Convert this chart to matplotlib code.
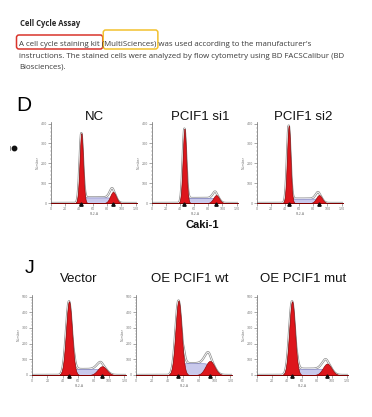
import numpy as np
import matplotlib
matplotlib.use("Agg")
import matplotlib.pyplot as plt
from matplotlib.patches import FancyBboxPatch
from matplotlib.lines import Line2D
from matplotlib.transforms import IdentityTransform
from matplotlib.ticker import MultipleLocator

W, H = 372, 417

# ---------------- data ----------------
heading = "Cell Cycle Assay"
body_lines = [
    "A cell cycle staining kit (MultiSciences) was used according to the manufacturer's",
    "instructions. The stained cells were analyzed by flow cytometry using BD FACSCalibur (BD",
    "Biosciences).",
]
red_box_text = "A cell cycle staining kit"
yellow_box_text = "(MultiSciences)"

d_titles = ["NC", "PCIF1 si1", "PCIF1 si2"]
d_g1_pos = [43, 46, 45]
d_g1_height = [352, 375, 390]
d_g1_sd = [2.5, 2.5, 2.5]
d_g2_pos = [88, 91, 88]
d_g2_height = [56, 40, 40]
d_g2_sd = [4.2, 4.2, 4.2]
d_s_level = [28, 25, 22]

j_titles = ["Vector", "OE PCIF1 wt", "OE PCIF1 mut"]
j_g1_pos = [48, 54, 47]
j_g1_height = [470, 475, 470]
j_g1_sd = [3.9, 3.9, 3.9]
j_g2_pos = [91, 94, 94]
j_g2_height = [56, 90, 73]
j_g2_sd = [5.8, 5.8, 5.8]
j_s_level = [38, 75, 40]

x_ticks = [0, 20, 40, 60, 80, 100, 120]
d_y_ticks = [0, 100, 200, 300, 400]
j_y_ticks = [0, 100, 200, 300, 400, 500]
x_label = "FL2-A"
y_label = "Number"
cell_line = "Caki-1"

# ---------------- figure ----------------
fig = plt.figure(figsize=(W / 100, H / 100), dpi=100)
fig.patch.set_facecolor("white")
rend = fig.canvas.get_renderer()


def fx(px):
    return px / W


def fy(py):
    return 1 - py / H


def measure(s, **kw):
    t = fig.text(0, 0, s, **kw)
    w = t.get_window_extent(rend).width
    t.remove()
    return w


body_kw = dict(family=["Open Sans", "DejaVu Sans"], color="#3a3a3a")
fs = 10 * 327 / measure(body_lines[1], fontsize=10, **body_kw)
head_kw = dict(family=["Open Sans", "DejaVu Sans"], weight="bold", color="#262626")
hfs = 10 * 60 / measure(heading, fontsize=10, **head_kw)

x0 = 19
fig.text(fx(20), fy(26), heading, fontsize=hfs, va="baseline", ha="left", **head_kw)
for line, yb in zip(body_lines, [46.5, 57.5, 68.5]):
    fig.text(fx(x0), fy(yb), line, fontsize=fs, va="baseline", ha="left", **body_kw)

w_red = measure(red_box_text, fontsize=fs, **body_kw)
w_pref = measure(red_box_text + " ", fontsize=fs, **body_kw)
w_yel = measure(yellow_box_text, fontsize=fs, **body_kw)


def add_box(l, r, t, b, color):
    p = FancyBboxPatch((l, H - b), r - l, b - t,
                       boxstyle="round,pad=0,rounding_size=2.5",
                       transform=IdentityTransform(), fill=False,
                       ec=color, lw=1.1)
    fig.add_artist(p)


add_box(x0 - 2.5, x0 + w_red + 3, 35, 49, "#d9342b")
add_box(x0 + w_pref + 1.5, x0 + w_pref + w_yel + 1.5, 30, 49, "#f2c12e")

# small mark at left
fig.add_artist(Line2D([fx(13.5)], [fy(148)], marker="o", ms=3.2, color="#111",
                      transform=fig.transFigure))
fig.add_artist(Line2D([fx(9.5), fx(9.5)], [fy(146), fy(149.5)], color="#777",
                      lw=0.6, transform=fig.transFigure))

arial = ["Liberation Sans", "DejaVu Sans"]
fig.text(fx(24), fy(105.5), "D", fontsize=15, family=arial, ha="center", va="center")
fig.text(fx(30), fy(268.5), "J", fontsize=14, family=arial, ha="center", va="center")
fig.text(fx(202), fy(225), cell_line, fontsize=8, weight="bold", family=arial,
         ha="center", va="center", color="#111")


def draw_panel(rect, title, title_xy, p1, h1, s1, p2, h2, s2, slev, yticks):
    l, r, t, b = rect
    ax = fig.add_axes([fx(l), fy(b), (r - l) / W, (b - t) / H])
    x = np.linspace(0, 122, 1400)
    g1 = h1 * np.exp(-0.5 * ((x - p1) / s1) ** 2)
    g2 = h2 * np.exp(-0.5 * ((x - p2) / s2) ** 2)
    rise = 0.5 * (1 + np.tanh((x - (p1 + 1.5 * s1)) / 1.0))
    fall = 0.5 * (1 - np.tanh((x - p2) / (0.5 * s2)))
    s = slev * rise * fall
    total = g1 + g2 + s
    ax.fill_between(x, 0, total, color="white", lw=0, zorder=1)
    ax.plot(x, total, color="#8c8c8c", lw=1.6, zorder=2, solid_capstyle="butt")
    ax.plot(x, total, color="white", lw=0.6, zorder=2.1)
    ax.fill_between(x, 0, s, color="#c9c9ec", ec="#7476c0", lw=0.4, zorder=3)
    ax.fill_between(x, 0, g1, color="#dd161c", ec="#800000", lw=0.4, zorder=4)
    ax.fill_between(x, 0, g2, color="#dd161c", ec="#800000", lw=0.4, zorder=4)
    ymax = yticks[-1]
    ax.plot([p1, p2], [-0.012 * ymax, -0.012 * ymax], marker="^", ls="none",
            color="#111", ms=2.4, clip_on=False, zorder=6)
    ax.set_xlim(0, 122)
    ax.set_ylim(0, ymax * 1.02)
    ax.set_xticks(x_ticks)
    ax.set_yticks(yticks)
    ax.xaxis.set_minor_locator(MultipleLocator(5))
    ax.yaxis.set_minor_locator(MultipleLocator(20))
    for sp in ["top", "right"]:
        ax.spines[sp].set_visible(False)
    for sp in ["left", "bottom"]:
        ax.spines[sp].set_color("#666")
        ax.spines[sp].set_linewidth(0.5)
    ax.tick_params(which="major", length=2, width=0.4, color="#666",
                   labelsize=2.3, labelcolor="#777", pad=0.8)
    ax.tick_params(which="minor", length=1, width=0.3, color="#777")
    ax.set_xlabel(x_label, fontsize=2.3, color="#777", labelpad=0.6)
    ax.set_ylabel(y_label, fontsize=2.3, color="#777", labelpad=1.0)
    ax.set_facecolor("none")
    fig.text(fx(title_xy[0]), fy(title_xy[1]), title, fontsize=9.5, family=arial,
             ha="center", va="center", color="#111")


d_rects = [(51, 137, 122, 203), (152, 238, 122, 203), (257, 343, 122, 203)]
d_title_xy = [(94, 117), (200, 117), (303, 117)]
for i in range(3):
    draw_panel(d_rects[i], d_titles[i], d_title_xy[i], d_g1_pos[i], d_g1_height[i],
               d_g1_sd[i], d_g2_pos[i], d_g2_height[i], d_g2_sd[i], d_s_level[i],
               d_y_ticks)

j_rects = [(32, 126, 295, 375), (136, 232, 295, 375), (257, 348, 295, 375)]
j_title_xy = [(79, 278.5), (190, 278.5), (303, 278.5)]
for i in range(3):
    draw_panel(j_rects[i], j_titles[i], j_title_xy[i], j_g1_pos[i], j_g1_height[i],
               j_g1_sd[i], j_g2_pos[i], j_g2_height[i], j_g2_sd[i], j_s_level[i],
               j_y_ticks)

fig.savefig("out.png", dpi=100, facecolor="white")
